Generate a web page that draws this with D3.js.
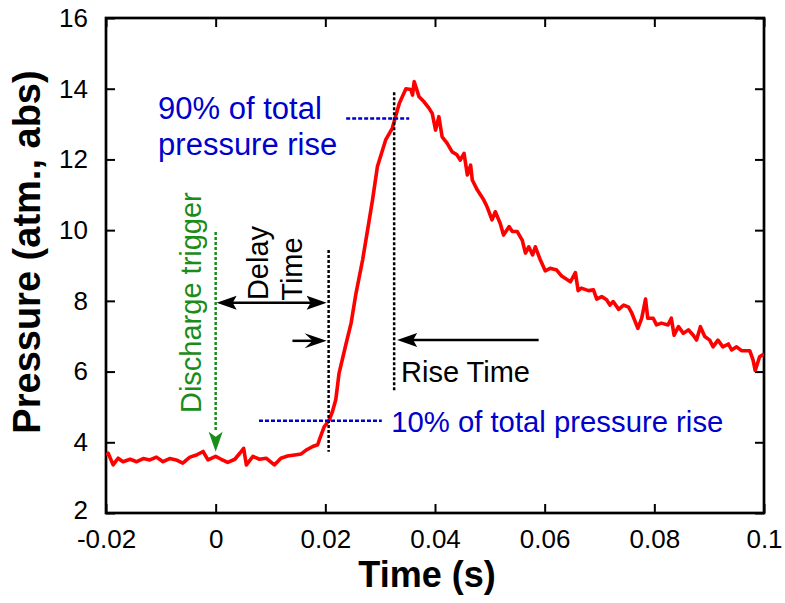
<!DOCTYPE html>
<html>
<head>
<meta charset="utf-8">
<script src="https://cdn.jsdelivr.net/npm/d3@7"></script>
<style>
  body { margin: 0; background: #fff; }
  svg { display: block; }
  text { font-family: "Liberation Sans", Arial, sans-serif; }
</style>
</head>
<body>
<svg id="chart" width="785" height="603"></svg>
<script>
// Pressure trace (time in s, pressure in atm abs)
const timeS = [
  -0.0199, -0.0196, -0.0187, -0.0178, -0.0169, -0.0156, -0.0144, -0.0132, -0.0120, -0.0108,
  -0.0096, -0.0084, -0.0072, -0.0060, -0.0047, -0.0035, -0.0023, -0.0014, 0.0000, 0.0010,
  0.0022, 0.0035, 0.0044, 0.0051, 0.0056, 0.0068, 0.0080, 0.0092, 0.0107, 0.0119,
  0.0131, 0.0144, 0.0156, 0.0165, 0.0177, 0.0186, 0.0190, 0.0198, 0.0207, 0.0213,
  0.0219, 0.0222, 0.0225, 0.0238, 0.0247, 0.0256, 0.0268, 0.0277, 0.0286, 0.0295,
  0.0310, 0.0322, 0.0329, 0.0335, 0.0347, 0.0356, 0.0359, 0.0362, 0.0371, 0.0380,
  0.0389, 0.0395, 0.0401, 0.0407, 0.0413, 0.0422, 0.0431, 0.0440, 0.0446, 0.0453,
  0.0459, 0.0465, 0.0468, 0.0477, 0.0489, 0.0495, 0.0504, 0.0510, 0.0519, 0.0525,
  0.0535, 0.0541, 0.0550, 0.0559, 0.0565, 0.0571, 0.0578, 0.0583, 0.0592, 0.0601,
  0.0610, 0.0622, 0.0631, 0.0647, 0.0656, 0.0661, 0.0667, 0.0680, 0.0689, 0.0695,
  0.0704, 0.0713, 0.0719, 0.0725, 0.0735, 0.0744, 0.0753, 0.0759, 0.0770, 0.0777,
  0.0784, 0.0788, 0.0798, 0.0804, 0.0813, 0.0825, 0.0831, 0.0836, 0.0844, 0.0853,
  0.0862, 0.0871, 0.0877, 0.0884, 0.0892, 0.0901, 0.0907, 0.0916, 0.0925, 0.0935,
  0.0941, 0.0950, 0.0959, 0.0974, 0.0980, 0.0984, 0.0992, 0.1000
];
const pressureAtm = [
  3.62, 3.69, 3.36, 3.55, 3.45, 3.52, 3.45, 3.54, 3.50, 3.58,
  3.45, 3.54, 3.50, 3.41, 3.58, 3.64, 3.74, 3.50, 3.60, 3.52,
  3.43, 3.52, 3.69, 3.83, 3.36, 3.60, 3.52, 3.55, 3.36, 3.55,
  3.61, 3.64, 3.67, 3.78, 3.88, 3.93, 4.11, 4.44, 4.63, 4.87,
  5.20, 5.57, 5.95, 6.80, 7.37, 8.22, 9.16, 10.00, 10.85, 11.80,
  12.55, 12.88, 13.26, 13.59, 14.00, 13.98, 13.82, 14.20, 13.77, 13.63,
  13.45, 13.30, 12.83, 13.21, 12.64, 12.46, 12.22, 12.13, 11.98, 12.17,
  11.56, 11.84, 11.42, 11.14, 10.85, 10.66, 10.29, 10.52, 10.19, 9.86,
  10.10, 9.96, 9.96, 9.72, 9.35, 9.53, 9.30, 9.53, 9.16, 8.85,
  8.92, 8.87, 8.70, 8.54, 8.80, 8.29, 8.36, 8.29, 8.31, 8.05,
  8.12, 8.03, 7.88, 7.98, 7.76, 7.88, 7.82, 7.65, 7.22, 7.51,
  8.05, 7.51, 7.51, 7.32, 7.37, 7.32, 7.51, 7.03, 7.27, 7.08,
  7.18, 7.03, 6.89, 7.27, 6.99, 6.89, 6.70, 6.89, 6.70, 6.78,
  6.61, 6.70, 6.59, 6.59, 6.33, 6.03, 6.42, 6.50
];

const xTicks = [-0.02, 0, 0.02, 0.04, 0.06, 0.08, 0.1];
const xTickLabels = ["-0.02", "0", "0.02", "0.04", "0.06", "0.08", "0.1"];
const yTicks = [2, 4, 6, 8, 10, 12, 14, 16];

// key times / pressures of the annotations
const triggerTime = 0;
const delayEndTime = 0.0206;   // 10% point
const riseEndTime = 0.03255;   // 90% point
const tenPctPressure = 4.61;
const ninetyPctPressure = 13.16;

const svg = d3.select("#chart");
const margin = { top: 18, right: 21, bottom: 90, left: 106 };
const W = +svg.attr("width") - margin.left - margin.right;
const H = +svg.attr("height") - margin.top - margin.bottom;

const x = d3.scaleLinear().domain([-0.02, 0.1]).range([0, W]);
const y = d3.scaleLinear().domain([2, 16]).range([H, 0]);

const g = svg.append("g").attr("transform", `translate(${margin.left},${margin.top})`);

svg.append("defs").append("clipPath").attr("id", "plotClip")
  .append("rect").attr("width", W).attr("height", H);

// axes, ticks pointing inward on all four sides
const fmtX = d => xTickLabels[xTicks.indexOf(d)];
const styleAxis = sel => {
  sel.select(".domain").remove();
  sel.selectAll(".tick line").attr("stroke", "#000").attr("stroke-width", 2);
  sel.selectAll(".tick text").attr("font-size", 26).attr("fill", "#000")
    .attr("font-family", '"Liberation Sans", Arial, sans-serif');
};
g.append("g").attr("transform", `translate(0,${H})`)
  .call(d3.axisBottom(x).tickValues(xTicks).tickFormat(fmtX).tickSizeInner(-9).tickSizeOuter(0).tickPadding(17))
  .call(styleAxis);
g.append("g")
  .call(d3.axisTop(x).tickValues(xTicks).tickFormat("").tickSizeInner(-9).tickSizeOuter(0))
  .call(styleAxis);
const yAxisG = g.append("g")
  .call(d3.axisLeft(y).tickValues(yTicks).tickFormat(d3.format("d")).tickSizeInner(-9).tickSizeOuter(0).tickPadding(18))
  .call(styleAxis);
// lift the lowest label a touch so it clears the "-0.02" below it
yAxisG.selectAll(".tick text").filter(d => d === 2).attr("dy", "0.22em");
g.append("g").attr("transform", `translate(${W},0)`)
  .call(d3.axisRight(y).tickValues(yTicks).tickFormat("").tickSizeInner(-9).tickSizeOuter(0))
  .call(styleAxis);

// frame
g.append("rect").attr("width", W).attr("height", H)
  .attr("fill", "none").attr("stroke", "#000").attr("stroke-width", 2.7);

// pressure trace
const trace = timeS.map((t, i) => [t, pressureAtm[i]]);
g.append("path")
  .datum(trace)
  .attr("clip-path", "url(#plotClip)")
  .attr("fill", "none")
  .attr("stroke", "#ff0000")
  .attr("stroke-width", 3.6)
  .attr("stroke-linejoin", "round")
  .attr("d", d3.line().x(d => x(d[0])).y(d => y(d[1])));

// helpers for annotations
const dotted = (x1, y1, x2, y2, color, dash) =>
  g.append("line")
    .attr("x1", x(x1)).attr("y1", y(y1)).attr("x2", x(x2)).attr("y2", y(y2))
    .attr("stroke", color).attr("stroke-width", 2.5).attr("stroke-dasharray", dash);

// filled arrow head with a slight notch, tip at (tx,ty) pointing along (dx,dy)
const arrowHead = (tx, ty, dx, dy, color, len = 20, half = 7, notch = 4) => {
  const px = -dy, py = dx;
  const pts = [
    [tx, ty],
    [tx - dx * len + px * half, ty - dy * len + py * half],
    [tx - dx * (len - notch), ty - dy * (len - notch)],
    [tx - dx * len - px * half, ty - dy * len - py * half]
  ];
  g.append("path").attr("d", "M" + pts.join("L") + "Z").attr("fill", color);
};

const solidLine = (x1, y1, x2, y2, color) =>
  g.append("line")
    .attr("x1", x1).attr("y1", y1).attr("x2", x2).attr("y2", y2)
    .attr("stroke", color).attr("stroke-width", 2.5);

const green = "#1a8c1a";
const blue = "#0000cc";

// discharge trigger
dotted(triggerTime, 9.95, triggerTime, 4.3, green, "3,2");
arrowHead(x(triggerTime), y(3.73), 0, 1, green, 20, 7, 5);
g.append("text")
  .attr("transform", `translate(${x(-0.0027)},${y(7.95)}) rotate(-90)`)
  .attr("text-anchor", "middle").attr("font-size", 29).attr("fill", green)
  .text("Discharge trigger");

// vertical markers at 10% and 90% points
dotted(delayEndTime, 9.44, delayEndTime, 3.73, "#000", "3,2");
dotted(riseEndTime, 13.9, riseEndTime, 5.42, "#000", "3,2");

// 10% / 90% blue levels
dotted(0.0079, tenPctPressure, 0.0303, tenPctPressure, blue, "4,2");
dotted(0.0238, ninetyPctPressure, 0.0353, ninetyPctPressure, blue, "4,2");

// delay time double arrow
const delayY = y(7.95);
const delayTip = x(delayEndTime) - 2;
solidLine(x(triggerTime) + 10, delayY, delayTip - 10, delayY, "#000");
arrowHead(x(triggerTime) + 1, delayY, -1, 0, "#000");
arrowHead(delayTip, delayY, 1, 0, "#000");

g.append("text")
  .attr("transform", `translate(${x(0.0096)},${y(9.07)}) rotate(-90)`)
  .attr("text-anchor", "middle").attr("font-size", 29).attr("fill", "#000")
  .text("Delay");
g.append("text")
  .attr("transform", `translate(${x(0.0157)},${y(8.9)}) rotate(-90)`)
  .attr("text-anchor", "middle").attr("font-size", 29).attr("fill", "#000")
  .text("Time");

// small arrow into the 10% marker
const smallY = y(6.87);
solidLine(x(0.014), smallY, delayTip - 12, smallY, "#000");
arrowHead(delayTip, smallY, 1, 0, "#000", 22, 7.5, 8);

// rise time arrow
const riseY = y(6.89);
const riseTip = x(riseEndTime) + 3;
solidLine(x(0.0589), riseY, riseTip + 10, riseY, "#000");
arrowHead(riseTip, riseY, -1, 0, "#000");
g.append("text")
  .attr("x", x(0.0338)).attr("y", y(5.71))
  .attr("font-size", 29).attr("fill", "#000")
  .text("Rise Time");

// blue labels
g.append("text")
  .attr("x", x(-0.0105)).attr("y", y(13.14))
  .attr("font-size", 31).attr("fill", blue)
  .text("90% of total");
g.append("text")
  .attr("x", x(-0.0105)).attr("y", y(12.13))
  .attr("font-size", 31).attr("fill", blue)
  .text("pressure rise");
g.append("text")
  .attr("x", x(0.032)).attr("y", y(4.3))
  .attr("font-size", 29.3).attr("fill", blue)
  .text("10% of total pressure rise");

// axis titles
svg.append("text")
  .attr("x", 427).attr("y", 587)
  .attr("text-anchor", "middle").attr("font-size", 36).attr("font-weight", "bold")
  .text("Time (s)");
svg.append("text")
  .attr("transform", "translate(40,252) rotate(-90)")
  .attr("text-anchor", "middle").attr("font-size", 38).attr("font-weight", "bold")
  .text("Pressure (atm., abs)");
</script>
</body>
</html>
